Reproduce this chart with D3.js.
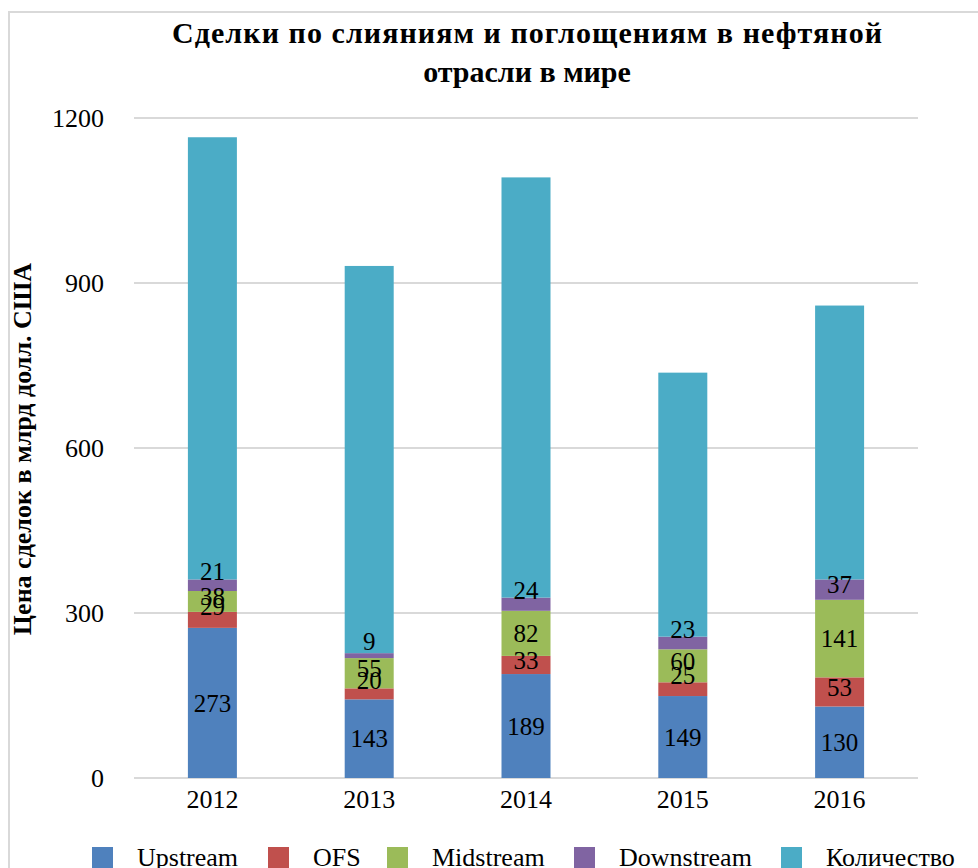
<!DOCTYPE html>
<html><head><meta charset="utf-8">
<script src="https://cdn.jsdelivr.net/npm/d3@7"></script>
<style>body{margin:0;background:#fff;} svg{display:block;}</style>
</head><body>
<svg id="c" width="978" height="868"></svg>
<script>
const years = ["2012","2013","2014","2015","2016"];
const seriesNames = ["Upstream","OFS","Midstream","Downstream","Количество"];
const upstream   = [273,143,189,149,130];
const ofs        = [29,20,33,25,53];
const midstream  = [38,55,82,60,141];
const downstream = [21,9,24,23,37];
const kolichestvo = [804,704,764,480,498];
const yTicks = [0,300,600,900,1200];
const colors = ["#4f81bd","#c0504d","#9bbb59","#8064a2","#4bacc6"];
const labeled = [true,true,true,true,false];
const titleLines = ["Сделки по слияниям и поглощениям в нефтяной","отрасли в мире"];
const yTitle = "Цена сделок в млрд долл. США";

const seriesVals = [upstream, ofs, midstream, downstream, kolichestvo];
const rows = years.map((y,i)=>{const o={year:y}; seriesNames.forEach((s,j)=>o[s]=seriesVals[j][i]); return o;});
const stack = d3.stack().keys(seriesNames)(rows);

const svg = d3.select("#c");
const font = "'Liberation Serif','Times New Roman',serif";
const x = d3.scaleBand().domain(years).range([134,918]).paddingInner(0.6875).paddingOuter(0.34375);
const y = d3.scaleLinear().domain([0,1200]).range([778,118]);

// border
svg.append("rect").attr("x",9).attr("y",12).attr("width",1000).attr("height",900)
  .attr("fill","none").attr("stroke","#d9d9d9").attr("stroke-width",2);

// gridlines
svg.append("g").selectAll("line").data(yTicks).join("line")
  .attr("x1",134).attr("x2",918).attr("y1",d=>y(d)).attr("y2",d=>y(d))
  .attr("stroke","#d9d9d9").attr("stroke-width",2);

// y axis labels
const yAx = svg.append("g").attr("transform","translate(104,0)")
  .call(d3.axisLeft(y).tickValues(yTicks).tickFormat(d3.format("d")).tickSize(0).tickPadding(0));
yAx.select(".domain").remove();
yAx.selectAll("text").attr("font-family",font).attr("font-size",26).attr("fill","#000");

// x axis labels
const xAx = svg.append("g").attr("transform","translate(0,790)")
  .call(d3.axisBottom(x).tickSize(0).tickPadding(0));
xAx.select(".domain").remove();
xAx.selectAll("text").attr("font-family",font).attr("font-size",26).attr("fill","#000").attr("dy","0.71em");

// bars
stack.forEach((layer,j)=>{
  svg.append("g").attr("fill",colors[j]).selectAll("rect").data(layer).join("rect")
    .attr("x",d=>x(d.data.year)).attr("width",x.bandwidth())
    .attr("y",d=>y(d[1])).attr("height",d=>y(d[0])-y(d[1]));
});
// labels
stack.forEach((layer,j)=>{
  if(!labeled[j]) return;
  svg.append("g").selectAll("text").data(layer).join("text")
    .attr("x",d=>x(d.data.year)+x.bandwidth()/2)
    .attr("y",d=>{const h=y(d[0])-y(d[1]); const c=(y(d[0])+y(d[1]))/2; const s = h<18?14:(h<35?5:0); return c-s;})
    .attr("dy","0.35em").attr("text-anchor","middle")
    .attr("font-family",font).attr("font-size",25).attr("fill","#000")
    .text(d=>d[1]-d[0]);
});

// title
const tt = svg.append("g").selectAll("text").data(titleLines).join("text")
  .attr("x",527).attr("y",(d,i)=>43+i*39).attr("text-anchor","middle")
  .attr("font-family",font).attr("font-size",30).attr("font-weight","bold").text(d=>d);
tt.filter((d,i)=>i===0).attr("textLength",710).attr("lengthAdjust","spacing");

// y title
svg.append("text").attr("transform","translate(31,449) rotate(-90)").attr("text-anchor","middle")
  .attr("font-family",font).attr("font-size",26).attr("font-weight","bold").text(yTitle);

// legend
const legX = [92,268,387,574,781];
const leg = svg.append("g");
seriesNames.forEach((s,j)=>{
  leg.append("rect").attr("x",legX[j]).attr("y",847).attr("width",21).attr("height",21).attr("fill",colors[j]);
  leg.append("text").attr("x",legX[j]+45).attr("y",866).attr("font-family",font).attr("font-size",26).text(s);
});
</script>
</body></html>
